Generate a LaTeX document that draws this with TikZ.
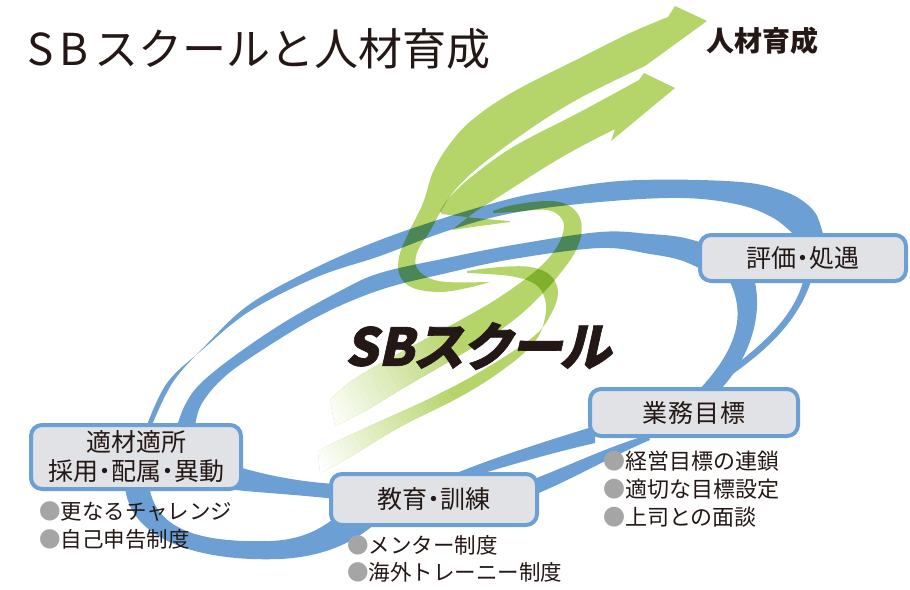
\documentclass[tikz,border=0pt]{standalone}
\usepackage{fontspec}
\newfontfamily\jp{Noto Sans CJK JP}
\newfontfamily\jpsl{Noto Sans CJK JP}[FakeSlant=0.22,FakeBold=1.2]
\definecolor{bl}{RGB}{108,160,212}
\definecolor{gg}{RGB}{181,213,106}
\definecolor{boxg}{RGB}{225,226,230}
\definecolor{tx}{RGB}{35,24,21}
\definecolor{bul}{RGB}{165,165,165}
\newcommand\nkdot{\kern-6pt ・\kern-6pt}
\def\Rpath{plot[smooth,tension=0.6] coordinates {(493,211) (513,205) (547,201) (568,205) (580,218) (581,236) (574,254) (562,271) (545,291) (520,315) (490,337) (450,361) (400,390) (365,411) (335,426)} -- plot[smooth,tension=0.6] coordinates {(330,400) (350,382) (383,362) (433,335) (487,305) (520,283) (541,266) (555,250) (563,233) (562,219) (547,210) (513,212) (493,213)} -- cycle}
\def\Bpath{plot[smooth,tension=0.6] coordinates {(467,271) (500,267) (530,267) (550,275) (558,292) (551,314) (533,337) (483,370) (433,397) (383,420) (333,443) (318,452)} -- plot[smooth,tension=0.6] coordinates {(320,473) (350,457) (400,427) (467,393) (512,363) (536,340) (545,318) (545,299) (535,284) (510,276) (467,273)} -- cycle}
\begin{document}
\begin{tikzpicture}[x=1pt,y=-1pt,
  box/.style={draw=bl, line width=4pt, fill=boxg, rounded corners=11pt, inner sep=0pt, text=tx, align=center, font=\jp\fontsize{25pt}{29pt}\selectfont},
  item/.style={anchor=west, inner sep=0pt, text=tx, font=\jp\fontsize{21.5pt}{22pt}\selectfont},
  itemr/.style={anchor=west, inner sep=0pt, text=tx, font=\jp\fontsize{22pt}{22pt}\selectfont},
  rib/.style={fill=bl},
  grn/.style={fill=gg}]
\useasboundingbox (0,0) rectangle (910,589);
\fill[white] (0,0) rectangle (910,589);

% ---------------- blue ribbons ----------------
% outer upper ribbon
\fill[rib] plot[smooth,tension=0.6] coordinates {(824,238) (816,214) (800,199) (780,190) (750,183) (700,180) (640,180) (600,183) (555,190) (513,198) (447,217) (380,240) (317,267) (250,304) (206,345) (173,382) (152,425)} -- plot[smooth,tension=0.6] coordinates {(147,425) (167,383) (202,350) (250,311) (317,277) (380,256) (447,231) (513,213) (600,202) (683,198) (740,205) (775,219) (797,238)} -- cycle;
% inner upper ribbon
\fill[rib] plot[smooth,tension=0.6] coordinates {(703,243) (680,237) (650,234) (600,232) (513,245) (447,258) (380,273) (340,291) (283,323) (233,357) (200,384) (185,405) (177,426)} -- plot[smooth,tension=0.6] coordinates {(195,426) (201,405) (220,381) (250,358) (317,317) (380,290) (447,273) (513,259) (600,248) (650,254) (680,260) (703,270)} -- cycle;
% right side ribbons
\fill[rib] (728,278) .. controls (745,310) and (742,345) .. (697,392) -- (718,392) .. controls (745,365) and (765,320) .. (754,278) -- cycle;
\fill[rib] (804,278) .. controls (795,315) and (765,345) .. (712,382) -- (718,384) .. controls (770,350) and (800,318) .. (812,278) -- cycle;
% lower right ribbons
\fill[rib] (595,426) .. controls (560,437) and (500,455) .. (449,476) -- (474,476) .. controls (520,462) and (560,451) .. (595,443) -- cycle;
\fill[rib] (648,435) .. controls (610,446) and (575,463) .. (534,479) -- (534,495) .. controls (575,478) and (612,456) .. (650,440) -- cycle;
% lower left ribbons
\fill[rib] (235,466) .. controls (265,475) and (300,482) .. (336,484) -- (336,499) .. controls (300,495) and (265,493) .. (235,490) -- cycle;
\fill[rib] (125,485) .. controls (128,540) and (200,562) .. (280,559) .. controls (320,557) and (350,545) .. (375,524) -- (337,516) .. controls (320,530) and (300,540) .. (270,541) .. controls (200,543) and (155,530) .. (149,485) -- cycle;

% ---------------- green ribbons ----------------
\begin{scope}[blend mode=multiply]
\fill[grn] \Rpath;
\fill[grn] \Bpath;
% arrow 1
\fill[grn] plot[smooth,tension=0.6] coordinates {(490,282) (467,288) (440,292) (413,288) (400,276) (399,257) (408,234) (423,203) (433,172) (449,145) (472,120) (513,92) (580,58) (630,33) (668,17)} -- (675,6) -- (707,21) -- (645,66) -- plot[smooth,tension=0.6] coordinates {(645,66) (580,98) (530,129) (480,166) (455,190) (441,211) (430,231) (418,250) (416,266) (427,277) (447,282) (490,282)} -- cycle;
% arrow 2
\fill[grn] plot[smooth,tension=0.6] coordinates {(639,80) (580,112) (513,147) (470,178) (449,198) (440,211)} -- plot[smooth,tension=0.6] coordinates {(442,214) (475,218) (510,221)} -- plot[smooth,tension=0.6] coordinates {(510,222) (480,226) (452,230)} -- plot[smooth,tension=0.6] coordinates {(452,230) (475,212) (500,196) (547,166) (580,147) (615,129)} -- (611,141) -- (675,88) -- (644,73) -- cycle;
\end{scope}

% fading ends of the two lower bands
\begin{scope}
\clip \Rpath;
\begin{scope}[shift={(330,425)}, rotate=31]
\fill[white] (-80,-60) rectangle (0,60);
\foreach \i in {0,...,24} {\pgfmathtruncatemacro\pc{\i*4}\fill[gg!\pc!white] (\i*6-1,-60) rectangle (\i*6+6,60);}
\end{scope}
\end{scope}
\begin{scope}
\clip \Bpath;
\begin{scope}[shift={(316,463)}, rotate=33]
\fill[white] (-80,-60) rectangle (0,60);
\foreach \i in {0,...,24} {\pgfmathtruncatemacro\pc{\i*4}\fill[gg!\pc!white] (\i*6-1,-60) rectangle (\i*6+6,60);}
\end{scope}
\end{scope}

% ---------------- boxes ----------------
\node[box, minimum width=206pt, minimum height=46pt] (hyoka) at (803,258) {評価\nkdot 処遇};
\node[box, minimum width=208pt, minimum height=47pt] (gyomu) at (694,412.5) {業\kern1pt 務\kern1pt 目\kern1pt 標};
\node[box, minimum width=206pt, minimum height=51pt] (kyoiku) at (434,499.5) {教育\nkdot 訓練};
\node[box, minimum width=210pt, minimum height=64pt] (tekizai) at (136,457) {適材適所\\採用\nkdot 配属\nkdot 異動};

% ---------------- lists ----------------
\node[item] (l1) at (39,511.5) {\textcolor{bul}{●}更なるチャレンジ};
\node[item] (l2) at (39,539.5) {\textcolor{bul}{●}自己申告制度};
\node[item] (m1) at (347,545) {\textcolor{bul}{●}メンター制度};
\node[item] (m2) at (347,572.5) {\textcolor{bul}{●}海外トレーニー制度};
\node[itemr] (r1) at (603,461) {\textcolor{bul}{●}経営目標の連鎖};
\node[itemr] (r2) at (603,489) {\textcolor{bul}{●}適切な目標設定};
\node[itemr] (r3) at (603,517.5) {\textcolor{bul}{●}上司との面談};

% ---------------- titles ----------------
\node[anchor=base west, inner sep=0pt, text=tx, font=\jp\fontsize{44pt}{44pt}\selectfont] (title) at (27,65) {S\hspace{6pt}B\hspace{6pt}スクールと人材育成};
\node[inner sep=0pt, text=tx, font=\jp\bfseries\fontsize{28pt}{28pt}\selectfont] (jinzai) at (762,41) {人材育成};
\node[inner sep=0pt, text=tx, font=\jpsl\bfseries\fontsize{52pt}{52pt}\selectfont] (sb) at (478,346) {SB\kern-2pt ス\kern-3pt ク\kern-3pt ー\kern-3pt ル};
\end{tikzpicture}
\end{document}
